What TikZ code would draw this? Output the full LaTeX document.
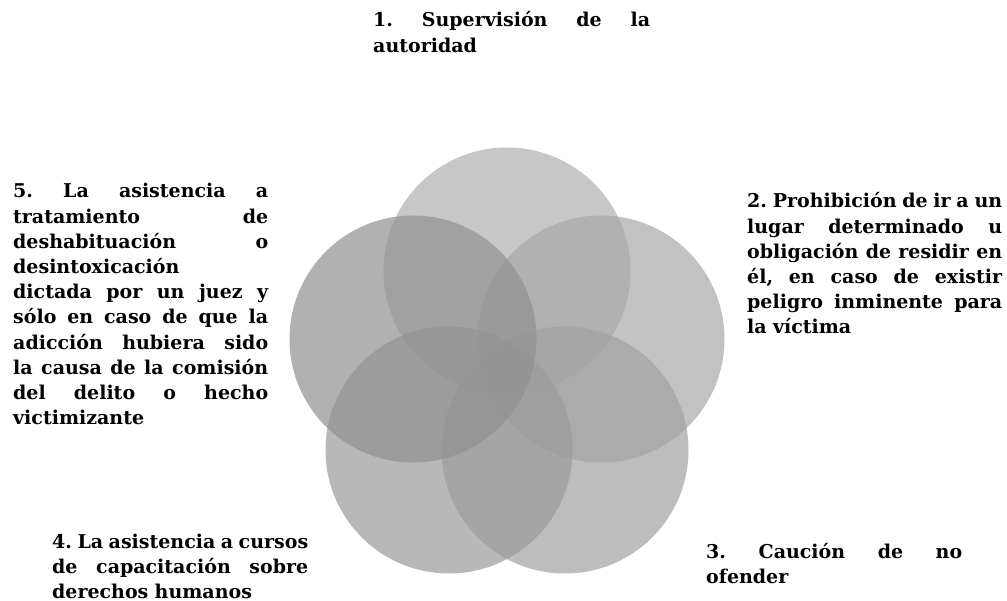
\documentclass[tikz,border=0pt]{standalone}
\usepackage{fontspec}
\setmainfont{DejaVu Serif}
% one fully justified line of a caption (align=left fixes the word space,
% so give it stretch again inside the box)
\newcommand\jline[1]{{\spaceskip=0.25em plus 20em minus 0.05em\relax
  \xspaceskip=\spaceskip\makebox[\hsize][s]{#1}}}
\definecolor{petalA}{gray}{0.690}
\definecolor{petalB}{gray}{0.663}
\definecolor{petalC}{gray}{0.636}
\definecolor{petalD}{gray}{0.608}
\definecolor{petalE}{gray}{0.569}
\begin{document}
\frenchspacing
\begin{tikzpicture}[x=1pt,y=-1pt,
  petal/.style={circle, minimum size=247pt, inner sep=0pt, draw=none, fill opacity=0.7},
  caption/.style={anchor=base west, inner sep=0pt, align=left,
    font=\fontsize{19}{25.2}\selectfont\bfseries\frenchspacing}]
\useasboundingbox (0,0) rectangle (1007,601);
\fill[white] (0,0) rectangle (1007,601);

% five overlapping circles on a regular pentagon
\node[petal, fill=petalA] (p1) at (507,271) {};
\node[petal, fill=petalB] (p2) at (601,339) {};
\node[petal, fill=petalC] (p3) at (565,450) {};
\node[petal, fill=petalD] (p4) at (449,450) {};
\node[petal, fill=petalE] (p5) at (413,339) {};

% captions
\node[caption, text width=277pt] (t1) at (373,27)
  {\jline{1. Supervisión de la}\\autoridad};
\node[caption, text width=255pt] (t2) at (747,208)
  {\jline{2. Prohibición de ir a un}\\
   \jline{lugar determinado u}\\
   \jline{obligación de residir en}\\
   \jline{él, en caso de existir}\\
   \jline{peligro inminente para}\\
   la víctima};
\node[caption, text width=256pt] (t3) at (706,558)
  {\jline{3. Caución de no}\\ofender};
\node[caption, text width=256pt] (t4) at (52,548)
  {\jline{4. La asistencia a cursos}\\
   \jline{de capacitación sobre}\\
   derechos humanos};
\node[caption, text width=255pt] (t5) at (13,198)
  {\jline{5. La asistencia a}\\
   \jline{tratamiento de}\\
   \jline{deshabituación o}\\
   desintoxicación\\
   \jline{dictada por un juez y}\\
   \jline{sólo en caso de que la}\\
   \jline{adicción hubiera sido}\\
   \jline{la causa de la comisión}\\
   \jline{del delito o hecho}\\
   victimizante};
\end{tikzpicture}
\end{document}
